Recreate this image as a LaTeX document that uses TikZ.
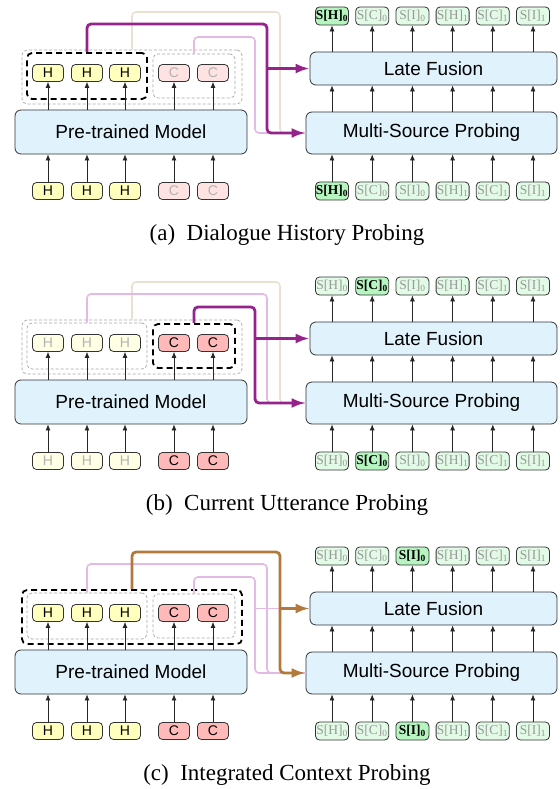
\documentclass[tikz,border=0pt]{standalone}
\usepackage{fontspec}
\setmainfont{Liberation Serif}
\setsansfont{Liberation Sans}
\usetikzlibrary{arrows.meta}

\definecolor{hyel}{RGB}{255,255,190}
\definecolor{cred}{RGB}{255,185,185}
\definecolor{sgrn}{RGB}{182,245,192}
\definecolor{mblue}{RGB}{224,242,252}
\definecolor{purp}{RGB}{150,35,140}
\definecolor{pinklt}{RGB}{228,185,228}
\definecolor{brwn}{RGB}{178,120,60}
\definecolor{tanlt}{RGB}{236,224,210}

\tikzset{
  tok/.style={draw=black!80, line width=0.8pt, rounded corners=4pt, minimum width=31pt,
    minimum height=17pt, inner sep=0pt, font=\sffamily\fontsize{14}{14}\selectfont},
  hon/.style={tok, fill=hyel},
  hoff/.style={tok, fill=hyel!40, text=black!30},
  con/.style={tok, fill=cred},
  coff/.style={tok, fill=cred!40, text=black!30},
  lab/.style={draw=black!80, line width=0.8pt, rounded corners=4pt, minimum width=33pt,
    minimum height=18pt, inner sep=0pt, fill=sgrn!40, text=black!40,
    font=\fontsize{13.5}{13.5}\selectfont},
  labon/.style={fill=sgrn, text=black, font=\fontsize{13.5}{13.5}\selectfont\bfseries},
  sel1/.style={}, sel2/.style={}, sel3/.style={},
  sel4/.style={}, sel5/.style={}, sel6/.style={},
  bigbox/.style={draw=black!80, line width=0.8pt, fill=mblue, rounded corners=6pt,
    inner sep=0pt, font=\sffamily\fontsize{19}{19}\selectfont},
  grpbox/.style={draw=black!35, line width=0.7pt, dash pattern=on 3pt off 2pt,
    rounded corners=5pt, inner sep=0pt},
  selbox/.style={draw=black, line width=1.8pt, dash pattern=on 6pt off 4pt,
    rounded corners=5pt, inner sep=0pt},
  up/.style={-{Latex[length=6pt,width=5pt]}, black!85, line width=0.7pt},
  hot/.style={line width=2.8pt, rounded corners=4pt},
  cold/.style={line width=1.6pt, rounded corners=4pt},
  feed/.style={-{Latex[length=14pt,width=10pt]}},
  capt/.style={font=\fontsize{23}{23}\selectfont},
}

\newcommand{\probepanel}{%
  % encoder side
  \node[hsty] (hb1) at (48,191) {H};
  \node[hsty] (hb2) at (87,191) {H};
  \node[hsty] (hb3) at (125,191) {H};
  \node[csty] (cb1) at (174,191) {C};
  \node[csty] (cb2) at (213,191) {C};
  \node[bigbox, minimum width=232pt, minimum height=44pt] (ptm) at (131,132) {Pre-trained Model};
  \node[hsty] (ht1) at (48,73) {H};
  \node[hsty] (ht2) at (87,73) {H};
  \node[hsty] (ht3) at (125,73) {H};
  \node[csty] (ct1) at (174,73) {C};
  \node[csty] (ct2) at (213,73) {C};
  \node[obox, minimum width=220pt, minimum height=54pt] (all) at (132,77) {};
  \node[hbox, minimum width=120pt, minimum height=46pt] (hgrp) at (87,76) {};
  \node[cbox, minimum width=82pt, minimum height=44pt] (cgrp) at (194,76) {};
  \foreach \t in {1,2,3} {
    \draw[up] (hb\t) -- (hb\t |- ptm.south);
    \draw[up] (ht\t |- ptm.north) -- (ht\t.south);
  }
  \foreach \t in {1,2} {
    \draw[up] (cb\t) -- (cb\t |- ptm.south);
    \draw[up] (ct\t |- ptm.north) -- (ct\t.south);
  }
  % probing side
  \node[bigbox, minimum width=251pt, minimum height=42pt] (msp) at (431.5,133) {Multi-Source Probing};
  \node[bigbox, minimum width=247pt, minimum height=33pt] (lf) at (433.5,68.5) {Late Fusion};
  \foreach \i/\s/\k in {1/H/0,2/C/0,3/I/0,4/H/1,5/C/1,6/I/1} {
    \node[lab, sel\i] (st\i) at ({291.8+40.2*\i},16) {S[\s]\textsubscript{\k}};
    \node[lab, sel\i] (sb\i) at ({291.8+40.2*\i},191) {S[\s]\textsubscript{\k}};
    \draw[up] (sb\i) -- (sb\i |- msp.south);
    \draw[up] (sb\i |- msp.north) -- (sb\i |- lf.south);
    \draw[up] (sb\i |- lf.north) -- (st\i);
  }
  \coordinate (oturn) at (280,12);
  \coordinate (hturn) at (267,24);
  \coordinate (cturn) at (255,37);
}

\begin{document}
\begin{tikzpicture}[x=1pt, y=-1pt]
\useasboundingbox (0,0) rectangle (559,789);

% (a) history
\begin{scope}[name prefix=a-, hsty/.style=hon, csty/.style=coff, sel1/.style=labon,
    obox/.style=grpbox, hbox/.style=selbox, cbox/.style=grpbox]
  \probepanel
  \draw[cold, tanlt] (all.north) |- (oturn) |- (msp.west);
  \draw[cold, pinklt] (cgrp.north) |- (cturn) |- (msp.west);
  \draw[hot, purp, feed] (hgrp.north) |- (hturn) |- (msp.west);
  \draw[hot, purp, feed] (hturn |- lf.west) -- (lf.west);
  \node[capt] (capa) at (287,235) {(a)\hspace{0.5em}Dialogue History Probing};
\end{scope}

% (b) current utterance
\begin{scope}[shift={(0,270)}, name prefix=b-, hsty/.style=hoff, csty/.style=con, sel2/.style=labon,
    obox/.style=grpbox, hbox/.style=grpbox, cbox/.style=selbox]
  \probepanel
  \draw[cold, tanlt] (all.north) |- (oturn) |- (msp.west);
  \draw[cold, pinklt] (hgrp.north) |- (hturn) |- (msp.west);
  \draw[hot, purp, feed] (cgrp.north) |- (cturn) |- (msp.west);
  \draw[hot, purp, feed] (cturn |- lf.west) -- (lf.west);
  \node[capt] (capb) at (287,235) {(b)\hspace{0.5em}Current Utterance Probing};
\end{scope}

% (c) integrated
\begin{scope}[shift={(0,540)}, name prefix=c-, hsty/.style=hon, csty/.style=con, sel3/.style=labon,
    obox/.style=selbox, hbox/.style=grpbox, cbox/.style=grpbox]
  \probepanel
  \draw[cold, pinklt] (hgrp.north) |- (hturn) |- (msp.west);
  \draw[cold, pinklt] (cgrp.north) |- (cturn) |- (msp.west);
  \draw[cold, pinklt] (cturn |- lf.west) -- (lf.west);
  \draw[hot, brwn, feed] (all.north) |- (oturn) |- (msp.west);
  \draw[hot, brwn, feed] (oturn |- lf.west) -- (lf.west);
  \node[capt] (capc) at (287,235) {(c)\hspace{0.5em}Integrated Context Probing};
\end{scope}
\end{tikzpicture}
\end{document}
